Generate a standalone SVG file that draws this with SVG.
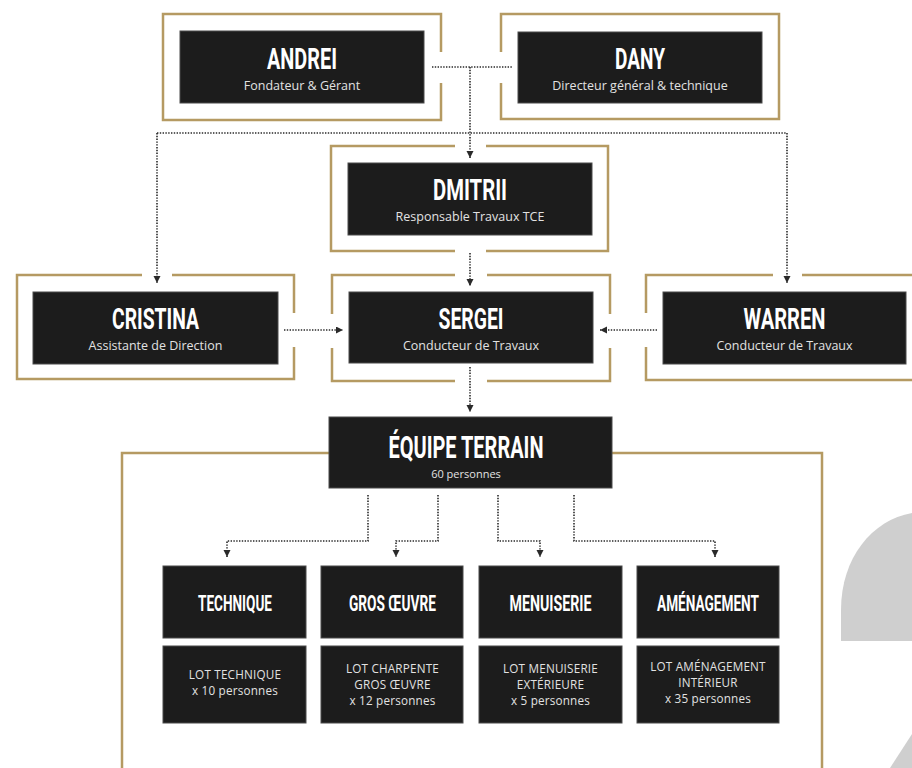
<svg xmlns="http://www.w3.org/2000/svg" width="912" height="768" viewBox="0 0 912 768">
<style>
.frame{fill:none;stroke:#b59a62;stroke-width:2.5}
.box{fill:#1c1c1c;stroke:#4a4a4a;stroke-width:1}
.t{font-family:Roboto,"Liberation Sans",sans-serif;font-weight:700;fill:#ffffff;text-anchor:middle}
.t1{font-size:30px}
.t3{font-size:22px}
.s{font-family:"Open Sans","Liberation Sans",sans-serif;font-size:12.5px;fill:#e2e2e2;text-anchor:middle}
.l{font-family:"Open Sans","Liberation Sans",sans-serif;font-size:11.7px;fill:#e2e2e2;text-anchor:middle;letter-spacing:0.2px}
.c{fill:none;stroke:#2a2a2a;stroke-width:1.6;stroke-dasharray:1.4 1.4}
.bg{fill:#cfcfcf}
</style>
<defs>
<marker id="ah" markerUnits="userSpaceOnUse" markerWidth="8" markerHeight="8" refX="7" refY="3.5" orient="auto">
<path d="M0,0 L7,3.5 L0,7 Z" fill="#2a2a2a"/>
</marker>
</defs>
<rect width="912" height="768" fill="#ffffff"/>
<g id="decor">
<path class="bg" d="M841,641 L841,610 C841,558 872,520 912,513 L912,641 Z"/>
<path class="bg" d="M890,768 L912,734 L912,768 Z"/>
</g>
<g id="frames">
<path class="frame" d="M441,52 V14 H163 V120 H441 V83"/>
<path class="frame" d="M501,52 V14 H779 V119 H501 V83"/>
<path class="frame" d="M455,146 H331 V251 H455 M486,251 H608 V146 H486"/>
<path class="frame" d="M455,275 H332 V314 M332,348 V381 H455 M487,381 H610 V348 M610,314 V275 H487"/>
<path class="frame" d="M142,275 H17 V379 H294 V347 M294,313 V275 H172"/>
<path class="frame" d="M773,275 H646 V313 M646,347 V380 H920 M802,275 H920"/>
<path class="frame" d="M329,453 H122 V775 M612,453 H822 V775"/>
</g>
<g id="connectors">
<path class="c" d="M432,67 H512"/>
<path class="c" d="M470,67 V158" marker-end="url(#ah)"/>
<path class="c" d="M157,133 H787"/>
<path class="c" d="M157,133 V283" marker-end="url(#ah)"/>
<path class="c" d="M787,133 V283" marker-end="url(#ah)"/>
<path class="c" d="M470,253 V286" marker-end="url(#ah)"/>
<path class="c" d="M470,367 V412" marker-end="url(#ah)"/>
<path class="c" d="M284,330 H343" marker-end="url(#ah)"/>
<path class="c" d="M657,330 H600" marker-end="url(#ah)"/>
<path class="c" d="M368,495 V541 H227 V557" marker-end="url(#ah)"/>
<path class="c" d="M438,495 V541 H396 V557" marker-end="url(#ah)"/>
<path class="c" d="M498,495 V541 H540 V557" marker-end="url(#ah)"/>
<path class="c" d="M574,495 V541 H715 V557" marker-end="url(#ah)"/>
</g>
<g id="andrei">
<rect class="box" x="180" y="31" width="244" height="72"/>
<text class="t t1" x="302" y="68.5" textLength="70" lengthAdjust="spacingAndGlyphs">ANDREI</text>
<text class="s" x="302" y="89.5">Fondateur &amp; Gérant</text>
</g>
<g id="dany">
<rect class="box" x="518" y="32" width="244" height="71"/>
<text class="t t1" x="640" y="68.5" textLength="50" lengthAdjust="spacingAndGlyphs">DANY</text>
<text class="s" x="640" y="89.5">Directeur général &amp; technique</text>
</g>
<g id="dmitrii">
<rect class="box" x="348" y="163" width="244" height="72"/>
<text class="t t1" x="470" y="199.5" textLength="74" lengthAdjust="spacingAndGlyphs">DMITRII</text>
<text class="s" x="470" y="220.5">Responsable Travaux TCE</text>
</g>
<g id="cristina">
<rect class="box" x="33" y="292" width="245" height="72"/>
<text class="t t1" x="155.5" y="328.5" textLength="87" lengthAdjust="spacingAndGlyphs">CRISTINA</text>
<text class="s" x="155.5" y="349.5">Assistante de Direction</text>
</g>
<g id="sergei">
<rect class="box" x="349" y="292" width="244" height="71"/>
<text class="t t1" x="471" y="328.5" textLength="65" lengthAdjust="spacingAndGlyphs">SERGEI</text>
<text class="s" x="471" y="349.5">Conducteur de Travaux</text>
</g>
<g id="warren">
<rect class="box" x="663" y="292" width="243" height="72"/>
<text class="t t1" x="784.5" y="328.5" textLength="82" lengthAdjust="spacingAndGlyphs">WARREN</text>
<text class="s" x="784.5" y="349.5">Conducteur de Travaux</text>
</g>
<g id="equipe">
<rect class="box" x="329" y="417" width="283" height="71"/>
<text class="t" style="font-size:32px" x="466" y="458" textLength="155" lengthAdjust="spacingAndGlyphs">ÉQUIPE TERRAIN</text>
<text class="s" style="font-size:11px" x="466" y="478">60 personnes</text>
</g>
<g id="technique">
<rect class="box" x="163" y="566" width="143" height="72"/>
<text class="t t3" x="235" y="611" textLength="74" lengthAdjust="spacingAndGlyphs">TECHNIQUE</text>
<rect class="box" x="163" y="646" width="143" height="77"/>
<text class="l" x="235" y="679">LOT TECHNIQUE</text>
<text class="l" x="235" y="695">x 10 personnes</text>
</g>
<g id="gros-oeuvre">
<rect class="box" x="321" y="566" width="142" height="72"/>
<text class="t t3" x="392.5" y="611" textLength="87" lengthAdjust="spacingAndGlyphs">GROS ŒUVRE</text>
<rect class="box" x="321" y="646" width="142" height="77"/>
<text class="l" x="392.5" y="673">LOT CHARPENTE</text>
<text class="l" x="392.5" y="689">GROS ŒUVRE</text>
<text class="l" x="392.5" y="705">x 12 personnes</text>
</g>
<g id="menuiserie">
<rect class="box" x="479" y="566" width="143" height="72"/>
<text class="t t3" x="550.5" y="611" textLength="82" lengthAdjust="spacingAndGlyphs">MENUISERIE</text>
<rect class="box" x="479" y="646" width="143" height="77"/>
<text class="l" x="550.5" y="673">LOT MENUISERIE</text>
<text class="l" x="550.5" y="689">EXTÉRIEURE</text>
<text class="l" x="550.5" y="705">x 5 personnes</text>
</g>
<g id="amenagement">
<rect class="box" x="637" y="566" width="142" height="72"/>
<text class="t t3" x="708" y="611" textLength="102" lengthAdjust="spacingAndGlyphs">AMÉNAGEMENT</text>
<rect class="box" x="637" y="646" width="142" height="77"/>
<text class="l" x="708" y="671">LOT AMÉNAGEMENT</text>
<text class="l" x="708" y="687">INTÉRIEUR</text>
<text class="l" x="708" y="703">x 35 personnes</text>
</g>
</svg>
